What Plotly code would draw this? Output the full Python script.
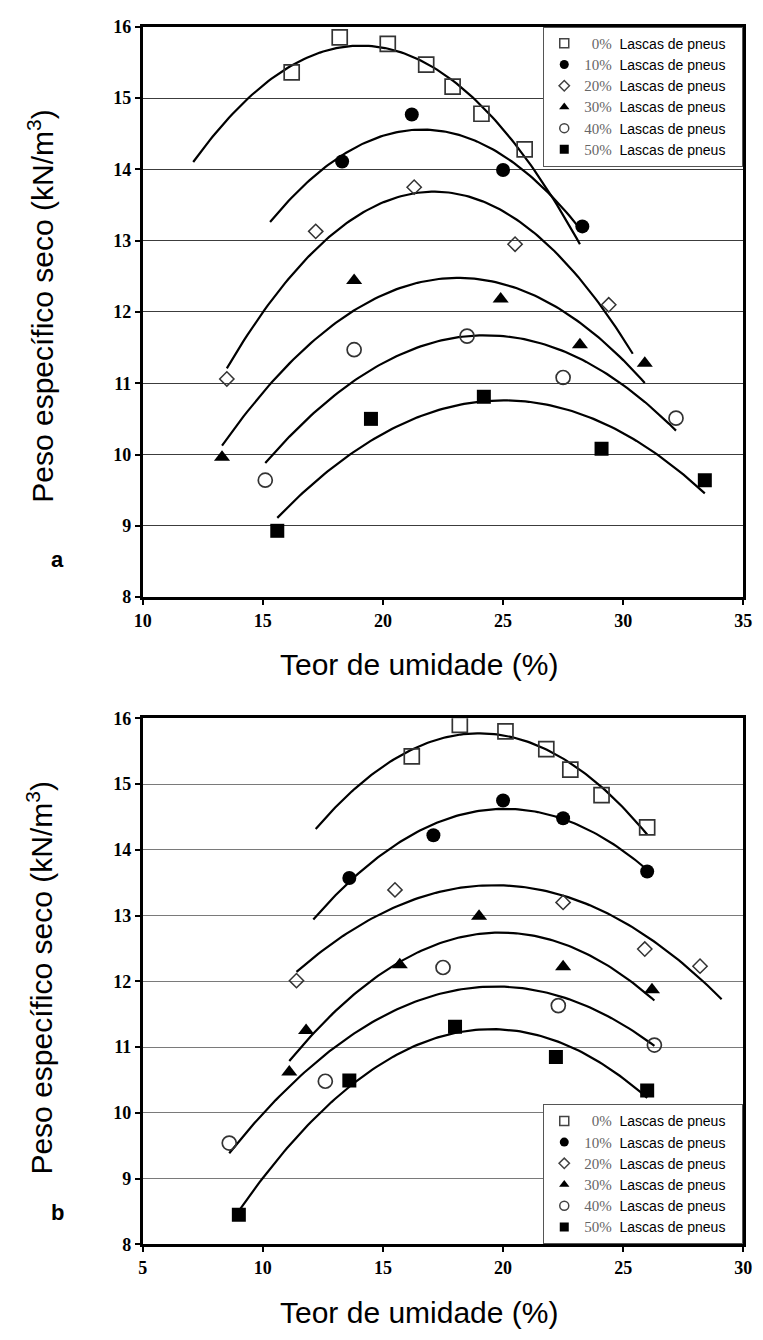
import numpy as np
import plotly.graph_objects as go

W, H = 763, 1340

# ---- data: dry unit weight vs. moisture content, tire-chip content series ----
labels = ["0%", "10%", "20%", "30%", "40%", "50%"]

# panel a
a0_x = [16.2, 18.2, 20.2, 21.8, 22.9, 24.1, 25.9]
a0_y = [15.36, 15.85, 15.76, 15.47, 15.16, 14.78, 14.28]
a10_x = [18.3, 21.2, 25.0, 28.3]
a10_y = [14.11, 14.77, 13.99, 13.20]
a20_x = [13.5, 17.2, 21.3, 25.5, 29.4]
a20_y = [11.06, 13.13, 13.75, 12.95, 12.10]
a30_x = [13.3, 18.8, 24.9, 28.2, 30.9]
a30_y = [9.96, 12.44, 12.18, 11.54, 11.28]
a40_x = [15.1, 18.8, 23.5, 27.5, 32.2]
a40_y = [9.64, 11.47, 11.66, 11.08, 10.51]
a50_x = [15.6, 19.5, 24.2, 29.1, 33.4]
a50_y = [8.93, 10.50, 10.81, 10.08, 9.64]
# extent of each fitted curve along the moisture axis
a_fit_range = [(12.1, 28.2), (15.3, 28.3), (13.5, 30.4), (13.3, 30.9), (15.1, 32.2), (15.6, 33.4)]

# panel b
b0_x = [16.2, 18.2, 20.1, 21.8, 22.8, 24.1, 26.0]
b0_y = [15.42, 15.90, 15.80, 15.53, 15.22, 14.83, 14.34]
b10_x = [13.6, 17.1, 20.0, 22.5, 26.0]
b10_y = [13.57, 14.22, 14.75, 14.48, 13.67]
b20_x = [11.4, 15.5, 22.5, 25.9, 28.2]
b20_y = [12.01, 13.39, 13.20, 12.49, 12.23]
b30_x = [11.1, 11.8, 15.7, 19.0, 22.5, 26.2]
b30_y = [10.62, 11.25, 12.25, 12.99, 12.22, 11.87]
b40_x = [8.6, 12.6, 17.5, 22.3, 26.3]
b40_y = [9.54, 10.48, 12.21, 11.63, 11.03]
b50_x = [9.0, 13.6, 18.0, 22.2, 26.0]
b50_y = [8.45, 10.49, 11.31, 10.85, 10.34]
b_fit_range = [(12.2, 26.0), (12.1, 26.0), (11.4, 29.1), (11.1, 26.3), (8.6, 26.3), (9.0, 26.0)]

y_ticks = [8, 9, 10, 11, 12, 13, 14, 15, 16]

# ---- marker styles per series ----
styles = [
    dict(symbol="square-open", size=15, color="#333333", line=dict(width=1.7, color="#333333")),
    dict(symbol="circle", size=14, color="black"),
    dict(symbol="diamond-open", size=11, color="#333333", line=dict(width=1.5, color="#333333")),
    dict(symbol="triangle-up", size=14, color="black"),
    dict(symbol="circle-open", size=14, color="#333333", line=dict(width=1.7, color="#333333")),
    dict(symbol="square", size=14, color="black"),
]
legend_styles = [
    dict(symbol="square-open", size=9, color="#444444", line=dict(width=1.5, color="#444444")),
    dict(symbol="circle", size=9, color="black"),
    dict(symbol="diamond-open", size=8, color="#444444", line=dict(width=1.5, color="#444444")),
    dict(symbol="triangle-up", size=9, color="black"),
    dict(symbol="circle-open", size=9, color="#444444", line=dict(width=1.5, color="#444444")),
    dict(symbol="square", size=9, color="black"),
]


def legend_name(pct):
    pad = "\u2007" if len(pct) == 2 else ""
    return ('<span style="font-family:Liberation Serif;color:#666666;font-size:15px">'
            + pad + pct + '</span>\u00a0\u00a0Lascas de pneus\u00a0\u00a0\u00a0')


fig = go.Figure()


def add_panel(xs, ys, ranges, xa, ya, legend_id):
    for i, (x, y) in enumerate(zip(xs, ys)):
        # quadratic trend line through the series
        coef = np.polyfit(x, y, 2)
        lo, hi = ranges[i]
        xf = np.linspace(lo, hi, 120)
        fig.add_trace(go.Scatter(x=xf, y=np.polyval(coef, xf), mode="lines",
                                 line=dict(color="black", width=2.2),
                                 xaxis=xa, yaxis=ya, showlegend=False, hoverinfo="skip"))
    for i, (x, y) in enumerate(zip(xs, ys)):
        fig.add_trace(go.Scatter(x=x, y=y, mode="markers", marker=styles[i],
                                 xaxis=xa, yaxis=ya, showlegend=False))
    for i, lab in enumerate(labels):
        fig.add_trace(go.Scatter(x=[None], y=[None], mode="markers", marker=legend_styles[i],
                                 name=legend_name(lab), xaxis=xa, yaxis=ya,
                                 legend=legend_id, showlegend=True))


add_panel([a0_x, a10_x, a20_x, a30_x, a40_x, a50_x],
          [a0_y, a10_y, a20_y, a30_y, a40_y, a50_y], a_fit_range, "x", "y", "legend")
add_panel([b0_x, b10_x, b20_x, b30_x, b40_x, b50_x],
          [b0_y, b10_y, b20_y, b30_y, b40_y, b50_y], b_fit_range, "x2", "y2", "legend2")

x_dom = [137 / W, 752 / W]
tickfont = dict(family="Liberation Serif", size=18, color="black", weight="bold")

axis_common = dict(showline=True, linecolor="black", linewidth=2.6, mirror=True,
                   ticks="outside", ticklen=5, tickwidth=1.5, tickcolor="black",
                   tickfont=tickfont, zeroline=False)

legend_common = dict(xanchor="right", bgcolor="white", bordercolor="#555555", borderwidth=1,
                     font=dict(family="Liberation Sans", size=14, color="black"),
                     tracegroupgap=0)

fig.update_layout(
    width=W, height=H,
    margin=dict(l=0, r=0, t=0, b=0),
    paper_bgcolor="white", plot_bgcolor="white",
    xaxis=dict(domain=x_dom, anchor="y", range=[10, 35], dtick=5, showgrid=False,
               **axis_common),
    yaxis=dict(domain=[1 - 596 / H, 1 - 17 / H], anchor="x", range=[8, 16],
               tickvals=y_ticks, showgrid=True, gridcolor="#3c3c3c", gridwidth=1.3,
               **axis_common),
    xaxis2=dict(domain=x_dom, anchor="y2", range=[5, 30], dtick=5, showgrid=False,
                **axis_common),
    yaxis2=dict(domain=[1 - 1253 / H, 1 - 719 / H], anchor="x2", range=[8, 16],
                tickvals=y_ticks, showgrid=True, gridcolor="#7a7a7a", gridwidth=1.3,
                **axis_common),
    legend=dict(x=752 / W, y=1 - 17 / H, yanchor="top", **legend_common),
    legend2=dict(x=752 / W, y=1 - 1253 / H, yanchor="bottom", **legend_common),
    showlegend=True,
)

title_font = dict(family="Liberation Sans", size=30, color="black")
ytitle = "Peso específico seco (kN/m<sup>3</sup>)"
xtitle = "Teor de umidade (%)"
annotations = [
    dict(text=ytitle, x=32 / W, y=1 - 300 / H, textangle=-90, font=title_font),
    dict(text=xtitle, x=420 / W, y=1 - 664 / H, font=title_font),
    dict(text=ytitle, x=32 / W, y=1 - 982 / H, textangle=-90, font=title_font),
    dict(text=xtitle, x=420 / W, y=1 - 1322 / H, font=title_font),
    dict(text="<b>a</b>", x=50 / W, y=1 - 558 / H,
         font=dict(family="Liberation Sans", size=22, color="black")),
    dict(text="<b>b</b>", x=50 / W, y=1 - 1221 / H,
         font=dict(family="Liberation Sans", size=22, color="black")),
]
for a in annotations:
    a.update(xref="paper", yref="paper", showarrow=False, xanchor="center", yanchor="middle")
fig.update_layout(annotations=annotations)

fig.write_html("out.html")
